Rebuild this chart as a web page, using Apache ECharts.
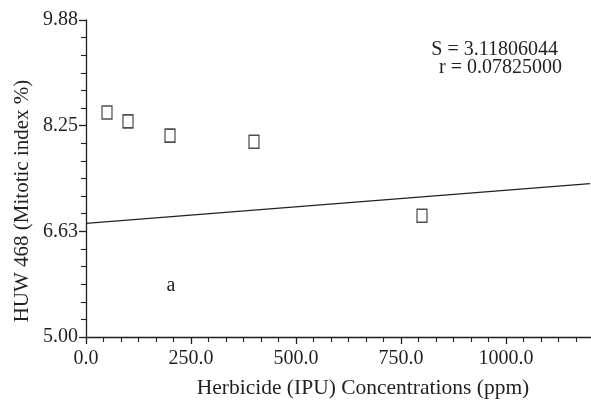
<!DOCTYPE html>
<html>
<head>
<meta charset="utf-8">
<script src="https://cdn.jsdelivr.net/npm/echarts@6/dist/echarts.min.js"></script>
<style>html,body{margin:0;padding:0;background:#fff}#c{width:591px;height:400px}</style>
</head>
<body>
<div id="c"></div>
<script>
// Data
const concentrations = [50, 100, 200, 400, 800];          // ppm
const mitoticIndex   = [8.456, 8.32, 8.10, 8.006, 6.866];  // %
const fitX = [0, 1200];
const fitY = [6.75, 7.36];
const yTickValues = ['5.00', '6.63', '8.25', '9.88'];
const annotation = ['S = 3.11806044', 'r = 0.07825000'];
const panelLabel = 'a';
const xTitle = 'Herbicide (IPU) Concentrations (ppm)';
const yTitle = 'HUW 468 (Mitotic index %)';

const FONT = '"Liberation Serif", "DejaVu Serif", serif';
const INK = '#231f20';

const chart = echarts.init(document.getElementById('c'), null, {renderer: 'canvas'});
const yMin = parseFloat(yTickValues[0]);
const yMax = parseFloat(yTickValues[yTickValues.length - 1]);
const yInterval = (yMax - yMin) / (yTickValues.length - 1);

chart.setOption({
  animation: false,
  backgroundColor: '#fff',
  grid: {left: 86, width: 525, top: 20, bottom: 63, containLabel: false, outerBoundsMode: 'none'},
  xAxis: {
    type: 'value', min: 0, max: 1250, interval: 250,
    axisLine: {show: true, onZero: false, lineStyle: {color: INK, width: 1.3}},
    axisTick: {show: true, length: 7, lineStyle: {color: INK, width: 1.3}},
    minorTick: {show: true, splitNumber: 6, length: 5, lineStyle: {color: INK, width: 1.1}},
    splitLine: {show: false},
    axisLabel: {
      color: INK, fontFamily: FONT, fontSize: 20, margin: 12,
      formatter: v => (v > 1200 ? '' : v.toFixed(1))
    }
  },
  yAxis: {
    type: 'value', min: yMin, max: yMax, interval: yInterval,
    axisLine: {show: true, onZero: false, lineStyle: {color: INK, width: 1.3}},
    axisTick: {show: true, length: 7, lineStyle: {color: INK, width: 1.3}},
    minorTick: {show: true, splitNumber: 6, length: 5, lineStyle: {color: INK, width: 1.1}},
    splitLine: {show: false},
    axisLabel: {
      color: INK, fontFamily: FONT, fontSize: 20, margin: 8,
      formatter: v => v.toFixed(2)
    }
  },
  graphic: [
    {type: 'text', x: 363, y: 388, style: {text: xTitle, font: '21.5px ' + FONT, fill: INK, align: 'center', verticalAlign: 'middle'}},
    {type: 'text', x: 22, y: 201, rotation: Math.PI / 2, style: {text: yTitle, font: '21px ' + FONT, fill: INK, align: 'center', verticalAlign: 'middle'}},
    {type: 'text', x: 558, y: 50, style: {text: annotation[0], font: '20px ' + FONT, fill: INK, align: 'right', verticalAlign: 'middle'}},
    {type: 'text', x: 562, y: 68, style: {text: annotation[1], font: '20px ' + FONT, fill: INK, align: 'right', verticalAlign: 'middle'}},
    {type: 'text', x: 171, y: 286, style: {text: panelLabel, font: '20px ' + FONT, fill: INK, align: 'center', verticalAlign: 'middle'}}
  ],
  series: [
    {
      type: 'line', data: fitX.map((x, i) => [x, fitY[i]]),
      symbol: 'none', lineStyle: {color: INK, width: 1.2}, silent: true
    },
    {
      type: 'scatter', data: concentrations.map((x, i) => [x, mitoticIndex[i]]),
      symbol: 'rect', symbolSize: [10, 13],
      itemStyle: {color: 'rgba(0,0,0,0)', borderColor: INK, borderWidth: 1.4}
    }
  ]
});
</script>
</body>
</html>
